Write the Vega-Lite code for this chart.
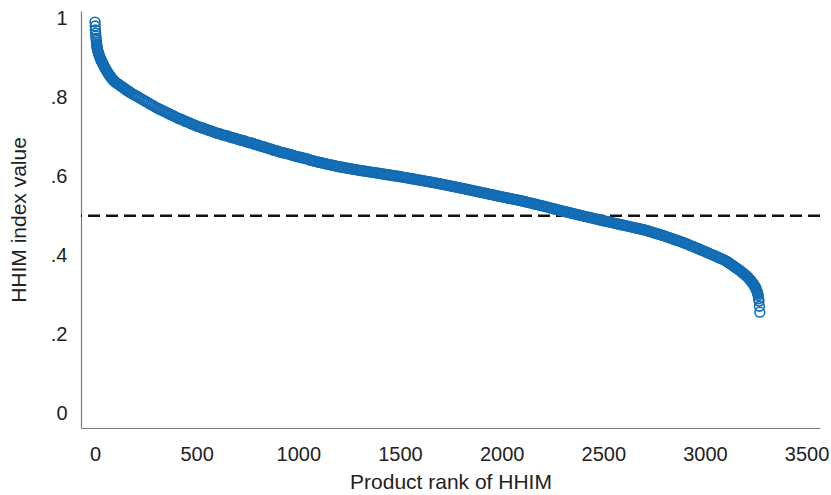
{
  "$schema": "https://vega.github.io/schema/vega-lite/v6.json",
  "width": 739,
  "height": 417,
  "autosize": {"type": "none"},
  "padding": {"left": 81, "top": 11, "right": 11, "bottom": 67},
  "background": "white",
  "config": {
    "view": {"stroke": null},
    "font": "Liberation Sans",
    "axis": {"grid": false, "ticks": false, "domainColor": "#7a7a7a", "domainWidth": 1.2, "labelColor": "#222", "titleColor": "#222", "labelFont": "Liberation Sans", "titleFont": "Liberation Sans", "titleFontWeight": "normal", "labelFontSize": 20, "titleFontSize": 21}
  },
  "layer": [
    {
      "data": {"values": [{"ref": 0.5}]},
      "mark": {"type": "rule", "color": "#111", "strokeWidth": 2.6, "strokeDash": [12, 6]},
      "encoding": {"y": {"field": "ref", "type": "quantitative", "scale": {"domain": [-0.037, 1.018], "nice": false, "zero": false}}}
    },
    {
      "data": {"values": [
{"rank":0,"hhim":0.990},{"rank":1,"hhim":0.980},{"rank":2,"hhim":0.970},{"rank":3,"hhim":0.962},{"rank":4,"hhim":0.955},{"rank":5,"hhim":0.949},{"rank":6,"hhim":0.944},{"rank":7,"hhim":0.939},{"rank":8,"hhim":0.934},{"rank":9,"hhim":0.930},{"rank":10,"hhim":0.926},{"rank":11,"hhim":0.923},{"rank":12,"hhim":0.921},{"rank":14,"hhim":0.917},{"rank":16,"hhim":0.913},{"rank":18,"hhim":0.910},{"rank":20,"hhim":0.907},{"rank":22,"hhim":0.904},{"rank":24,"hhim":0.901},{"rank":26,"hhim":0.898},{"rank":28,"hhim":0.896},{"rank":30,"hhim":0.893},{"rank":32,"hhim":0.891},{"rank":34,"hhim":0.889},{"rank":36,"hhim":0.887},{"rank":38,"hhim":0.885},{"rank":40,"hhim":0.883},{"rank":43,"hhim":0.880},{"rank":46,"hhim":0.877},{"rank":49,"hhim":0.874},{"rank":52,"hhim":0.871},{"rank":55,"hhim":0.868},{"rank":58,"hhim":0.866},{"rank":61,"hhim":0.863},{"rank":64,"hhim":0.861},{"rank":67,"hhim":0.858},{"rank":70,"hhim":0.856},{"rank":73,"hhim":0.854},{"rank":76,"hhim":0.852},{"rank":79,"hhim":0.850},{"rank":82,"hhim":0.848},{"rank":85,"hhim":0.846},{"rank":88,"hhim":0.844},{"rank":91,"hhim":0.842},{"rank":94,"hhim":0.841},{"rank":97,"hhim":0.839},
{"rank":102,"hhim":0.837},{"rank":107,"hhim":0.835},{"rank":112,"hhim":0.834},{"rank":117,"hhim":0.832},{"rank":122,"hhim":0.830},{"rank":127,"hhim":0.828},{"rank":132,"hhim":0.826},{"rank":137,"hhim":0.825},{"rank":142,"hhim":0.823},{"rank":147,"hhim":0.821},{"rank":152,"hhim":0.819},{"rank":157,"hhim":0.817},{"rank":162,"hhim":0.816},{"rank":167,"hhim":0.814},{"rank":172,"hhim":0.812},
{"rank":176,"hhim":0.811},{"rank":184,"hhim":0.808},{"rank":192,"hhim":0.806},{"rank":200,"hhim":0.804},{"rank":208,"hhim":0.802},{"rank":216,"hhim":0.799},{"rank":224,"hhim":0.797},{"rank":232,"hhim":0.794},{"rank":240,"hhim":0.792},{"rank":248,"hhim":0.790},{"rank":256,"hhim":0.787},{"rank":264,"hhim":0.785},{"rank":272,"hhim":0.782},{"rank":280,"hhim":0.780},{"rank":288,"hhim":0.778},{"rank":296,"hhim":0.775},
{"rank":304,"hhim":0.773},{"rank":312,"hhim":0.771},{"rank":320,"hhim":0.769},{"rank":328,"hhim":0.767},{"rank":336,"hhim":0.765},{"rank":344,"hhim":0.763},{"rank":352,"hhim":0.761},{"rank":360,"hhim":0.759},{"rank":368,"hhim":0.757},{"rank":376,"hhim":0.755},{"rank":384,"hhim":0.753},{"rank":392,"hhim":0.751},{"rank":400,"hhim":0.749},
{"rank":408,"hhim":0.747},{"rank":416,"hhim":0.745},{"rank":424,"hhim":0.744},{"rank":432,"hhim":0.742},{"rank":440,"hhim":0.740},{"rank":448,"hhim":0.738},{"rank":456,"hhim":0.737},{"rank":464,"hhim":0.735},{"rank":472,"hhim":0.733},{"rank":480,"hhim":0.731},{"rank":488,"hhim":0.730},{"rank":496,"hhim":0.728},
{"rank":504,"hhim":0.726},{"rank":512,"hhim":0.725},{"rank":520,"hhim":0.723},{"rank":528,"hhim":0.722},{"rank":536,"hhim":0.721},{"rank":544,"hhim":0.719},{"rank":552,"hhim":0.718},{"rank":560,"hhim":0.716},{"rank":568,"hhim":0.715},{"rank":576,"hhim":0.713},{"rank":584,"hhim":0.712},{"rank":592,"hhim":0.710},{"rank":600,"hhim":0.709},
{"rank":608,"hhim":0.708},{"rank":616,"hhim":0.707},{"rank":624,"hhim":0.705},{"rank":632,"hhim":0.704},{"rank":640,"hhim":0.703},{"rank":648,"hhim":0.702},{"rank":656,"hhim":0.701},{"rank":664,"hhim":0.699},{"rank":672,"hhim":0.698},{"rank":680,"hhim":0.697},{"rank":688,"hhim":0.696},{"rank":696,"hhim":0.695},
{"rank":704,"hhim":0.693},{"rank":712,"hhim":0.692},{"rank":720,"hhim":0.691},{"rank":728,"hhim":0.690},{"rank":736,"hhim":0.689},{"rank":744,"hhim":0.687},{"rank":752,"hhim":0.686},{"rank":760,"hhim":0.685},{"rank":768,"hhim":0.684},{"rank":776,"hhim":0.683},{"rank":784,"hhim":0.681},{"rank":792,"hhim":0.680},{"rank":800,"hhim":0.679},
{"rank":808,"hhim":0.678},{"rank":816,"hhim":0.676},{"rank":824,"hhim":0.675},{"rank":832,"hhim":0.674},{"rank":840,"hhim":0.673},{"rank":848,"hhim":0.671},{"rank":856,"hhim":0.670},{"rank":864,"hhim":0.669},{"rank":872,"hhim":0.667},{"rank":880,"hhim":0.666},{"rank":888,"hhim":0.665},{"rank":896,"hhim":0.664},
{"rank":904,"hhim":0.662},{"rank":912,"hhim":0.661},{"rank":920,"hhim":0.660},{"rank":928,"hhim":0.659},{"rank":936,"hhim":0.658},{"rank":944,"hhim":0.657},{"rank":952,"hhim":0.656},{"rank":960,"hhim":0.655},{"rank":968,"hhim":0.654},{"rank":976,"hhim":0.652},{"rank":984,"hhim":0.651},{"rank":992,"hhim":0.650},{"rank":1000,"hhim":0.649},
{"rank":1008,"hhim":0.648},{"rank":1016,"hhim":0.647},{"rank":1024,"hhim":0.646},{"rank":1032,"hhim":0.645},{"rank":1040,"hhim":0.644},{"rank":1048,"hhim":0.643},{"rank":1056,"hhim":0.641},{"rank":1064,"hhim":0.640},{"rank":1072,"hhim":0.639},{"rank":1080,"hhim":0.638},{"rank":1088,"hhim":0.637},{"rank":1096,"hhim":0.636},
{"rank":1104,"hhim":0.635},{"rank":1112,"hhim":0.6341},{"rank":1120,"hhim":0.6332},{"rank":1128,"hhim":0.6323},{"rank":1136,"hhim":0.6314},{"rank":1144,"hhim":0.6304},{"rank":1152,"hhim":0.6295},{"rank":1160,"hhim":0.6286},{"rank":1168,"hhim":0.6277},{"rank":1176,"hhim":0.6267},{"rank":1184,"hhim":0.6258},{"rank":1192,"hhim":0.6249},{"rank":1200,"hhim":0.624},
{"rank":1208,"hhim":0.6233},{"rank":1216,"hhim":0.6226},{"rank":1224,"hhim":0.6218},{"rank":1232,"hhim":0.6211},{"rank":1240,"hhim":0.6204},{"rank":1248,"hhim":0.6197},{"rank":1256,"hhim":0.619},{"rank":1264,"hhim":0.6182},{"rank":1272,"hhim":0.6175},{"rank":1280,"hhim":0.6168},{"rank":1288,"hhim":0.6161},{"rank":1296,"hhim":0.6154},
{"rank":1304,"hhim":0.6147},{"rank":1312,"hhim":0.614},{"rank":1320,"hhim":0.6134},{"rank":1328,"hhim":0.6128},{"rank":1336,"hhim":0.6121},{"rank":1344,"hhim":0.6115},{"rank":1352,"hhim":0.6108},{"rank":1360,"hhim":0.6102},{"rank":1368,"hhim":0.6096},{"rank":1376,"hhim":0.6089},{"rank":1384,"hhim":0.6083},{"rank":1392,"hhim":0.6076},{"rank":1400,"hhim":0.607},
{"rank":1408,"hhim":0.6064},{"rank":1416,"hhim":0.6057},{"rank":1424,"hhim":0.6051},{"rank":1432,"hhim":0.6044},{"rank":1440,"hhim":0.6038},{"rank":1448,"hhim":0.6032},{"rank":1456,"hhim":0.6025},{"rank":1464,"hhim":0.6019},{"rank":1472,"hhim":0.6012},{"rank":1480,"hhim":0.6006},{"rank":1488,"hhim":0.6},{"rank":1496,"hhim":0.5993},
{"rank":1504,"hhim":0.5986},{"rank":1512,"hhim":0.5979},{"rank":1520,"hhim":0.5972},{"rank":1528,"hhim":0.5965},{"rank":1536,"hhim":0.5958},{"rank":1544,"hhim":0.595},{"rank":1552,"hhim":0.5943},{"rank":1560,"hhim":0.5936},{"rank":1568,"hhim":0.5929},{"rank":1576,"hhim":0.5922},{"rank":1584,"hhim":0.5914},{"rank":1592,"hhim":0.5907},{"rank":1600,"hhim":0.59},
{"rank":1608,"hhim":0.5892},{"rank":1616,"hhim":0.5885},{"rank":1624,"hhim":0.5877},{"rank":1632,"hhim":0.587},{"rank":1640,"hhim":0.5862},{"rank":1648,"hhim":0.5854},{"rank":1656,"hhim":0.5847},{"rank":1664,"hhim":0.5839},{"rank":1672,"hhim":0.5832},{"rank":1680,"hhim":0.5824},{"rank":1688,"hhim":0.5816},{"rank":1696,"hhim":0.5809},
{"rank":1704,"hhim":0.5801},{"rank":1712,"hhim":0.5792},{"rank":1720,"hhim":0.5784},{"rank":1728,"hhim":0.5776},{"rank":1736,"hhim":0.5767},{"rank":1744,"hhim":0.5759},{"rank":1752,"hhim":0.575},{"rank":1760,"hhim":0.5742},{"rank":1768,"hhim":0.5734},{"rank":1776,"hhim":0.5725},{"rank":1784,"hhim":0.5717},{"rank":1792,"hhim":0.5708},{"rank":1800,"hhim":0.57},
{"rank":1808,"hhim":0.5691},{"rank":1816,"hhim":0.5682},{"rank":1824,"hhim":0.5674},{"rank":1832,"hhim":0.5665},{"rank":1840,"hhim":0.5656},{"rank":1848,"hhim":0.5647},{"rank":1856,"hhim":0.5638},{"rank":1864,"hhim":0.563},{"rank":1872,"hhim":0.5621},{"rank":1880,"hhim":0.5612},{"rank":1888,"hhim":0.5603},{"rank":1896,"hhim":0.5594},
{"rank":1904,"hhim":0.5586},{"rank":1912,"hhim":0.5577},{"rank":1920,"hhim":0.5568},{"rank":1928,"hhim":0.5559},{"rank":1936,"hhim":0.555},{"rank":1944,"hhim":0.5542},{"rank":1952,"hhim":0.5533},{"rank":1960,"hhim":0.5524},{"rank":1968,"hhim":0.5515},{"rank":1976,"hhim":0.5506},{"rank":1984,"hhim":0.5498},{"rank":1992,"hhim":0.5489},{"rank":2000,"hhim":0.548},
{"rank":2008,"hhim":0.5472},{"rank":2016,"hhim":0.5463},{"rank":2024,"hhim":0.5455},{"rank":2032,"hhim":0.5446},{"rank":2040,"hhim":0.5438},{"rank":2048,"hhim":0.543},{"rank":2056,"hhim":0.5421},{"rank":2064,"hhim":0.5413},{"rank":2072,"hhim":0.5404},{"rank":2080,"hhim":0.5396},{"rank":2088,"hhim":0.5388},{"rank":2096,"hhim":0.5379},
{"rank":2104,"hhim":0.537},{"rank":2112,"hhim":0.536},{"rank":2120,"hhim":0.535},{"rank":2128,"hhim":0.534},{"rank":2136,"hhim":0.533},{"rank":2144,"hhim":0.532},{"rank":2152,"hhim":0.531},{"rank":2160,"hhim":0.53},{"rank":2168,"hhim":0.529},{"rank":2176,"hhim":0.528},{"rank":2184,"hhim":0.527},{"rank":2192,"hhim":0.526},{"rank":2200,"hhim":0.525},
{"rank":2208,"hhim":0.524},{"rank":2216,"hhim":0.5229},{"rank":2224,"hhim":0.5219},{"rank":2232,"hhim":0.5208},{"rank":2240,"hhim":0.5198},{"rank":2248,"hhim":0.5188},{"rank":2256,"hhim":0.5177},{"rank":2264,"hhim":0.5167},{"rank":2272,"hhim":0.5156},{"rank":2280,"hhim":0.5146},{"rank":2288,"hhim":0.5136},{"rank":2296,"hhim":0.5125},
{"rank":2304,"hhim":0.5115},{"rank":2312,"hhim":0.5105},{"rank":2320,"hhim":0.5095},{"rank":2328,"hhim":0.5085},{"rank":2336,"hhim":0.5075},{"rank":2344,"hhim":0.5065},{"rank":2352,"hhim":0.5055},{"rank":2360,"hhim":0.5045},{"rank":2368,"hhim":0.5035},{"rank":2376,"hhim":0.5025},{"rank":2384,"hhim":0.5015},{"rank":2392,"hhim":0.5005},{"rank":2400,"hhim":0.4995},
{"rank":2408,"hhim":0.4985},{"rank":2416,"hhim":0.4976},{"rank":2424,"hhim":0.4966},{"rank":2432,"hhim":0.4957},{"rank":2440,"hhim":0.4947},{"rank":2448,"hhim":0.4937},{"rank":2456,"hhim":0.4928},{"rank":2464,"hhim":0.4918},{"rank":2472,"hhim":0.4909},{"rank":2480,"hhim":0.4899},{"rank":2488,"hhim":0.4889},{"rank":2496,"hhim":0.488},
{"rank":2504,"hhim":0.487},{"rank":2512,"hhim":0.4861},{"rank":2520,"hhim":0.4852},{"rank":2528,"hhim":0.4843},{"rank":2536,"hhim":0.4834},{"rank":2544,"hhim":0.4824},{"rank":2552,"hhim":0.4815},{"rank":2560,"hhim":0.4806},{"rank":2568,"hhim":0.4797},{"rank":2576,"hhim":0.4788},{"rank":2584,"hhim":0.4778},{"rank":2592,"hhim":0.4769},{"rank":2600,"hhim":0.476},
{"rank":2608,"hhim":0.4751},{"rank":2616,"hhim":0.4742},{"rank":2624,"hhim":0.4732},{"rank":2632,"hhim":0.4723},{"rank":2640,"hhim":0.4714},{"rank":2648,"hhim":0.4704},{"rank":2656,"hhim":0.4695},{"rank":2664,"hhim":0.4686},{"rank":2672,"hhim":0.4677},{"rank":2680,"hhim":0.4667},{"rank":2688,"hhim":0.4658},{"rank":2696,"hhim":0.4648},
{"rank":2704,"hhim":0.4639},{"rank":2712,"hhim":0.4626},{"rank":2720,"hhim":0.4614},{"rank":2728,"hhim":0.4602},{"rank":2736,"hhim":0.4589},{"rank":2744,"hhim":0.4577},{"rank":2752,"hhim":0.4564},{"rank":2760,"hhim":0.4552},{"rank":2768,"hhim":0.454},{"rank":2776,"hhim":0.4527},{"rank":2784,"hhim":0.4515},{"rank":2792,"hhim":0.4502},{"rank":2800,"hhim":0.449},
{"rank":2808,"hhim":0.4476},{"rank":2816,"hhim":0.4461},{"rank":2824,"hhim":0.4447},{"rank":2832,"hhim":0.4432},{"rank":2840,"hhim":0.4418},{"rank":2848,"hhim":0.4404},{"rank":2856,"hhim":0.4389},{"rank":2864,"hhim":0.4375},{"rank":2872,"hhim":0.436},{"rank":2880,"hhim":0.4346},{"rank":2888,"hhim":0.4332},{"rank":2896,"hhim":0.4317},
{"rank":2904,"hhim":0.4301},{"rank":2912,"hhim":0.4284},{"rank":2920,"hhim":0.4267},{"rank":2928,"hhim":0.425},{"rank":2936,"hhim":0.4233},{"rank":2944,"hhim":0.4215},{"rank":2952,"hhim":0.4198},{"rank":2960,"hhim":0.4181},{"rank":2968,"hhim":0.4164},{"rank":2976,"hhim":0.4147},{"rank":2984,"hhim":0.4129},{"rank":2992,"hhim":0.4112},{"rank":3000,"hhim":0.4095},
{"rank":3008,"hhim":0.4077},{"rank":3016,"hhim":0.4059},{"rank":3024,"hhim":0.4041},{"rank":3032,"hhim":0.4023},{"rank":3040,"hhim":0.4005},{"rank":3048,"hhim":0.3987},{"rank":3056,"hhim":0.3969},{"rank":3064,"hhim":0.3951},{"rank":3072,"hhim":0.3933},{"rank":3080,"hhim":0.3915},{"rank":3088,"hhim":0.3897},{"rank":3096,"hhim":0.3879},
{"rank":3104,"hhim":0.3856},{"rank":3110,"hhim":0.3835},{"rank":3116,"hhim":0.3814},{"rank":3122,"hhim":0.3793},{"rank":3128,"hhim":0.3772},{"rank":3134,"hhim":0.3751},{"rank":3140,"hhim":0.373},{"rank":3145,"hhim":0.3712},{"rank":3150,"hhim":0.3693},{"rank":3155,"hhim":0.3675},{"rank":3160,"hhim":0.3657},{"rank":3165,"hhim":0.3638},{"rank":3170,"hhim":0.362},{"rank":3175,"hhim":0.36},{"rank":3180,"hhim":0.358},{"rank":3185,"hhim":0.356},{"rank":3190,"hhim":0.354},{"rank":3194,"hhim":0.3522},{"rank":3198,"hhim":0.3504},{"rank":3202,"hhim":0.3486},{"rank":3206,"hhim":0.3468},{"rank":3210,"hhim":0.345},{"rank":3213,"hhim":0.3432},{"rank":3216,"hhim":0.3414},{"rank":3219,"hhim":0.3396},{"rank":3222,"hhim":0.3378},{"rank":3225,"hhim":0.336},{"rank":3228,"hhim":0.334},{"rank":3231,"hhim":0.332},{"rank":3234,"hhim":0.33},{"rank":3237,"hhim":0.328},{"rank":3240,"hhim":0.326},{"rank":3242,"hhim":0.3242},{"rank":3244,"hhim":0.3224},{"rank":3246,"hhim":0.3206},{"rank":3248,"hhim":0.3188},{"rank":3250,"hhim":0.317},{"rank":3252,"hhim":0.3143},{"rank":3254,"hhim":0.3117},{"rank":3256,"hhim":0.309},{"rank":3258,"hhim":0.3055},{"rank":3260,"hhim":0.302},{"rank":3262,"hhim":0.298},{"rank":3264,"hhim":0.29},{"rank":3266,"hhim":0.284},{"rank":3268,"hhim":0.271},{"rank":3270,"hhim":0.256}
      ]},
      "mark": {"type": "point", "shape": "circle", "filled": false, "size": 95, "strokeWidth": 1.6, "color": "#126cb4", "opacity": 1},
      "encoding": {
        "x": {"field": "rank", "type": "quantitative", "title": "Product rank of HHIM",
              "scale": {"domain": [-69, 3566], "nice": false, "zero": false},
              "axis": {"values": [0, 500, 1000, 1500, 2000, 2500, 3000, 3500], "format": "d", "labelPadding": 16, "titlePadding": 7}},
        "y": {"field": "hhim", "type": "quantitative", "title": "HHIM index value",
              "scale": {"domain": [-0.037, 1.018], "nice": false, "zero": false},
              "axis": {"values": [0, 0.2, 0.4, 0.6, 0.8, 1], "labelPadding": 14, "titlePadding": 21,
                       "labelExpr": "datum.value == 0 ? '0' : datum.value == 1 ? '1' : replace(format(datum.value, '.1f'), '0.', '.')"}}
      }
    }
  ]
}
